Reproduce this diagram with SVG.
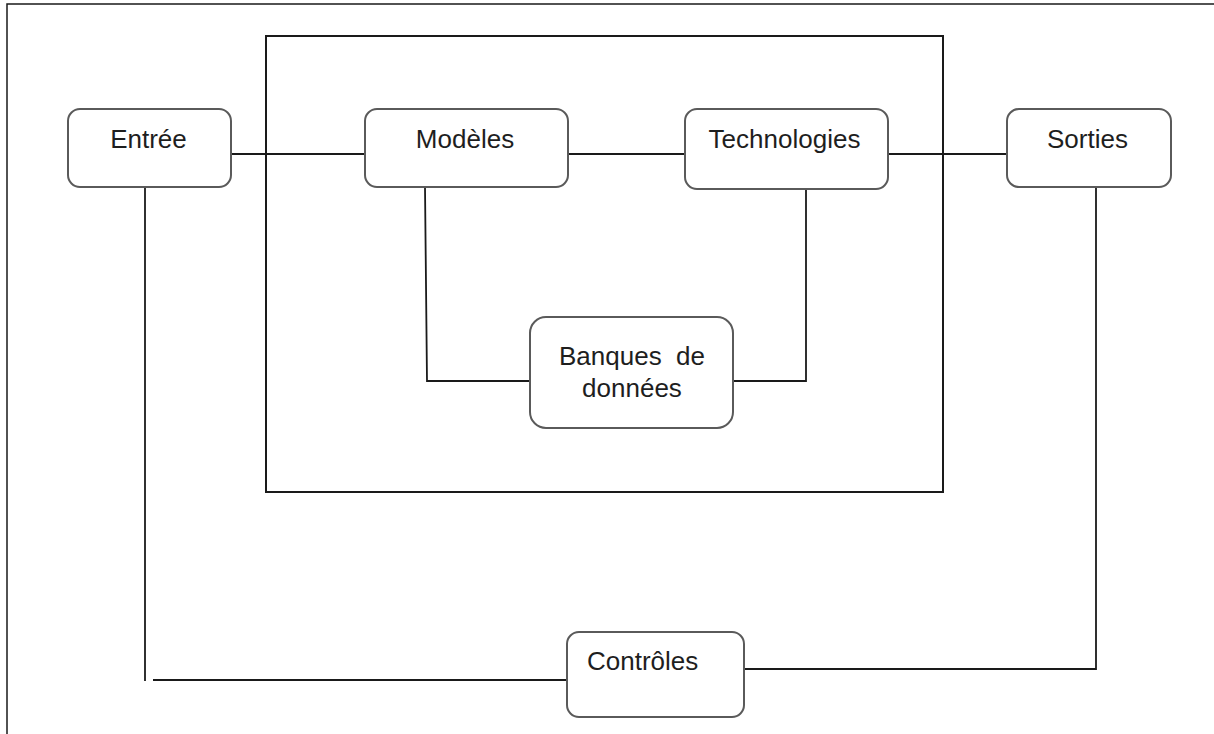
<svg xmlns="http://www.w3.org/2000/svg" width="1214" height="734" viewBox="0 0 1214 734">
<style>
.box{fill:#fff;stroke:#5a5a5a;stroke-width:2}
.ln{fill:none;stroke:#1a1a1a;stroke-width:1.8}
.frame{fill:none;stroke:#1a1a1a;stroke-width:1.5}
text{font-family:"Liberation Sans",Arial,sans-serif;font-size:26px;fill:#1e1e1e}
.c{text-anchor:middle}
</style>
<rect width="1214" height="734" fill="#fff"/>
<path class="frame" d="M7,734 V4 H1214"/>
<rect class="frame" x="266" y="36" width="677" height="456" style="stroke-width:2"/>
<g id="connectors">
<path class="ln" d="M231,154 H365"/>
<path class="ln" d="M568,154 H685"/>
<path class="ln" d="M888,154 H1007"/>
<path class="ln" d="M425,187 L427,381 H530"/>
<path class="ln" d="M806,190 V381 H733"/>
<path class="ln" d="M145,187 V681"/>
<path class="ln" d="M153,680 H567"/>
<path class="ln" d="M1096,187 V669 H744"/>
</g>
<g id="entree">
<rect class="box" x="68" y="109" width="163" height="78" rx="12"/>
<text class="c" x="148.5" y="148">Entrée</text>
</g>
<g id="modeles">
<rect class="box" x="365" y="109" width="203" height="78" rx="12"/>
<text class="c" x="465" y="148">Modèles</text>
</g>
<g id="technologies">
<rect class="box" x="685" y="109" width="203" height="80" rx="12"/>
<text class="c" x="784.5" y="148">Technologies</text>
</g>
<g id="sorties">
<rect class="box" x="1007" y="109" width="164" height="78" rx="12"/>
<text class="c" x="1087.5" y="148">Sorties</text>
</g>
<g id="banques">
<rect class="box" x="530" y="317" width="203" height="111" rx="16"/>
<text class="c" x="632" y="365" xml:space="preserve">Banques  de</text>
<text class="c" x="632" y="397">données</text>
</g>
<g id="controles">
<rect class="box" x="567" y="632" width="177" height="85" rx="12"/>
<text x="587" y="670">Contrôles</text>
</g>
</svg>
